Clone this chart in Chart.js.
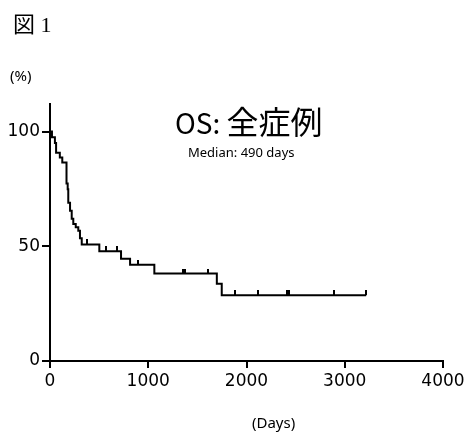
<!DOCTYPE html>
<html lang="ja">
<head>
<meta charset="UTF-8">
<title>図 1 OS: 全症例</title>
<script src="https://cdn.jsdelivr.net/npm/chart.js@4.4.1/dist/chart.umd.min.js"></script>
<style>
  html, body { margin: 0; padding: 0; background: #fff; }
  .wrap { position: relative; width: 470px; height: 436px; }
  canvas { display: block; }
  .lbl { position: absolute; white-space: nowrap; color: #000; line-height: 1; }
  #fig { left: 13px; top: 6px; font: 22px "Liberation Serif", "Noto Sans CJK JP"; }
  #unitY { left: 10px; top: 65px; font: 15px "Noto Sans", sans-serif; }
  #unitX { left: 252px; top: 412px; font: 15px "Noto Sans", sans-serif; }
  #title { left: 175px; top: 97px; font: 28px "Noto Sans CJK JP", "Noto Sans", sans-serif; }
  #title span { font-size: 32px; }
  #median { left: 188px; top: 143px; font: 13px "Noto Sans", sans-serif; }
</style>
</head>
<body>
<div class="wrap">
  <canvas id="km" width="470" height="436"></canvas>
  <div class="lbl" id="fig">図 1</div>
  <div class="lbl" id="unitY">(%)</div>
  <div class="lbl" id="unitX">(Days)</div>
  <div class="lbl" id="title">OS: <span>全症例</span></div>
  <div class="lbl" id="median">Median: 490 days</div>
</div>

<script>
  // Kaplan-Meier steps: day of event, survival (%) after it
  const eventDays = [0, 20, 50, 62, 100, 125, 168, 180, 186, 204, 221, 237, 262, 288, 305, 323, 502, 723, 815, 1062, 1698, 1748, 3218];
  const survival  = [100, 97.5, 95, 90.8, 88.7, 86.5, 77.4, 74.8, 69, 65.5, 62, 59.7, 58.3, 56.8, 53.5, 50.8, 47.8, 44.6, 42.0, 38.1, 33.7, 28.7, 28.7];

  // censored patients (tick marks)
  const censorDays = [374, 567, 686, 893, 1350, 1372, 1612, 1884, 2121, 2410, 2430, 2892, 3218];
  const censorSurv = [50.8, 47.8, 47.8, 42.0, 38.1, 38.1, 38.1, 28.7, 28.7, 28.7, 28.7, 28.7, 28.7];

  const xTicks = [0, 1000, 2000, 3000, 4000];
  const yTicks = [0, 50, 100];

  // small upward tick used as censor marker
  const tick = document.createElement('canvas');
  tick.width = 2;
  tick.height = 10;
  const tctx = tick.getContext('2d');
  tctx.fillStyle = '#000';
  tctx.fillRect(0, 0, 2, 5);

  const axisFont = { family: 'DejaVu Sans', size: 17 };

  new Chart(document.getElementById('km').getContext('2d'), {
    type: 'line',
    data: {
      datasets: [
        {
          data: eventDays.map((d, i) => ({ x: d, y: survival[i] })),
          stepped: 'before',
          borderColor: '#000',
          borderWidth: 2,
          pointRadius: 0,
          fill: false
        },
        {
          type: 'scatter',
          data: censorDays.map((d, i) => ({ x: d, y: censorSurv[i] })),
          pointStyle: tick,
          pointRadius: 5,
          showLine: false
        }
      ]
    },
    options: {
      responsive: false,
      animation: false,
      layout: { padding: { left: 0, right: 27, top: 104, bottom: 35 } },
      plugins: { legend: { display: false }, tooltip: { enabled: false } },
      scales: {
        x: {
          type: 'linear',
          min: 0,
          max: 4000,
          afterBuildTicks: s => { s.ticks = xTicks.map(v => ({ value: v })); },
          afterFit: s => { s.height = 40; },
          border: { color: '#000', width: 2 },
          grid: { drawOnChartArea: false, color: '#000', lineWidth: 2, tickLength: 7 },
          ticks: { color: '#000', font: axisFont, padding: 3, maxRotation: 0, callback: v => String(v) }
        },
        y: {
          min: 0,
          max: 112,
          afterBuildTicks: s => { s.ticks = yTicks.map(v => ({ value: v })); },
          afterFit: s => { s.width = 50; },
          border: { color: '#000', width: 2 },
          grid: { drawOnChartArea: false, color: '#000', lineWidth: 2, tickLength: 8 },
          ticks: { color: '#000', font: axisFont, padding: 2, callback: v => String(v) }
        }
      }
    }
  });
</script>
</body>
</html>
